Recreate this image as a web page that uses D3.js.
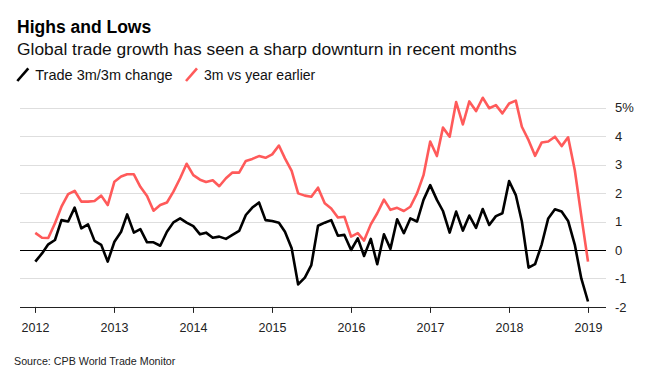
<!DOCTYPE html>
<html>
<head>
<meta charset="utf-8">
<script src="https://cdn.jsdelivr.net/npm/d3@7.9.0/dist/d3.min.js"></script>
<style>
  body { margin: 0; background: #fff; }
  svg { display: block; font-family: "Liberation Sans", Arial, sans-serif; }
</style>
</head>
<body>
<svg width="650" height="387"></svg>
<script>
// monthly readings, Jan 2012 .. Jan 2019
const startYear = 2012;
const trade3m = [
  -0.41, -0.12, 0.2, 0.35, 1.05, 1.0, 1.49, 0.76, 0.9, 0.32, 0.18, -0.41,
  0.29, 0.64, 1.25, 0.61, 0.73, 0.27, 0.27, 0.15, 0.64, 0.97, 1.11, 0.96,
  0.84, 0.55, 0.61, 0.43, 0.47, 0.39, 0.53, 0.67, 1.23, 1.49, 1.67, 1.05,
  1.02, 0.96, 0.64, 0.06, -1.21, -0.97, -0.53, 0.85, 0.96, 1.05, 0.5, 0.53,
  0.0, 0.41, -0.21, 0.39, -0.5, 0.55, 0.04, 1.08, 0.59, 1.11, 1.0, 1.76,
  2.28, 1.76, 1.37, 0.61, 1.35, 0.68, 1.21, 0.78, 1.44, 0.88, 1.19, 1.29,
  2.42, 1.93, 1.0, -0.62, -0.5, 0.2, 1.11, 1.43, 1.35, 1.02, 0.18, -1.0,
  -1.81
];
const yearEarlier = [
  0.6, 0.43, 0.42, 0.94, 1.52, 1.96, 2.08, 1.7, 1.7, 1.72, 1.91, 1.58,
  2.4, 2.58, 2.66, 2.66, 2.22, 1.9, 1.38, 1.58, 1.67, 2.05, 2.52, 3.03,
  2.63, 2.47, 2.39, 2.45, 2.24, 2.52, 2.72, 2.72, 3.13, 3.2, 3.3, 3.24,
  3.36, 3.67, 3.22, 2.78, 1.99, 1.91, 1.87, 2.19, 1.64, 1.46, 1.14, 1.17,
  0.47, 0.59, 0.33, 0.9, 1.29, 1.77, 1.41, 1.48, 1.37, 1.52, 1.99, 2.63,
  3.81, 3.3, 4.3, 3.98, 5.2, 4.41, 5.22, 4.88, 5.35, 4.98, 5.09, 4.8,
  5.15, 5.25, 4.33, 3.86, 3.31, 3.78, 3.81, 3.98, 3.65, 3.96, 2.8, 1.2,
  -0.41
];
const yTicks = [-2, -1, 0, 1, 2, 3, 4, 5];
const yearTicks = [2012, 2013, 2014, 2015, 2016, 2017, 2018, 2019];
const seriesNames = ['Trade 3m/3m change', '3m vs year earlier'];
const seriesColors = ['#000000', '#ff5a5a'];

const svg = d3.select('svg');

let x = d3.scaleTime()
  .domain([new Date(2012, 0, 1), new Date(2019, 0, 1)])
  .range([35.3, 588]);
let y = d3.scaleLinear().domain([-2, 5]).range([306.9, 107.7]);

const gridLeft = 20, gridRight = 606;

// gridlines + right labels
yTicks.forEach((t) => {
  let col = t === 0 ? '#000' : (t === -2 ? '#222' : '#dedede');
  svg.append('line')
    .attr('x1', gridLeft).attr('x2', gridRight)
    .attr('y1', Math.round(y(t)) + 0.5).attr('y2', Math.round(y(t)) + 0.5)
    .attr('stroke', col).attr('stroke-width', 1);
  svg.append('text')
    .attr('x', 615).attr('y', y(t)).attr('dy', '0.36em')
    .attr('font-size', 13).attr('fill', '#222')
    .text(t === 5 ? '5%' : t);
});

// year ticks along the bottom
yearTicks.forEach((yr) => {
  let px = Math.round(x(new Date(yr, 0, 1))) + 0.5;
  svg.append('line')
    .attr('x1', px).attr('x2', px)
    .attr('y1', y(-2)).attr('y2', y(-2) + 6)
    .attr('stroke', '#222').attr('stroke-width', 1);
  svg.append('text')
    .attr('x', px).attr('y', 332)
    .attr('text-anchor', 'middle')
    .attr('font-size', 12.5).attr('fill', '#222')
    .text(yr);
});

let line = d3.line()
  .x((d, i) => x(new Date(startYear, i, 1)))
  .y((d) => y(d));

[yearEarlier, trade3m].forEach((vals, k) => {
  svg.append('path')
    .attr('d', line(vals))
    .attr('fill', 'none')
    .attr('stroke', k === 0 ? seriesColors[1] : seriesColors[0])
    .attr('stroke-width', 2.6)
    .attr('stroke-linejoin', 'round');
});

// header
svg.append('text')
  .attr('x', 17).attr('y', 32.5)
  .attr('font-size', 17.5).attr('font-weight', 'bold').attr('fill', '#000')
  .text('Highs and Lows');
svg.append('text')
  .attr('x', 17).attr('y', 55)
  .attr('font-size', 17.4).attr('fill', '#111')
  .text('Global trade growth has seen a sharp downturn in recent months');

// legend
let legendX = [17.3, 186];
let legendSize = [14.5, 14];
seriesNames.forEach((name, i) => {
  svg.append('line')
    .attr('x1', legendX[i]).attr('y1', 81)
    .attr('x2', legendX[i] + 11).attr('y2', 68.3)
    .attr('stroke', seriesColors[i]).attr('stroke-width', 2.6);
  svg.append('text')
    .attr('x', legendX[i] + 18).attr('y', 80)
    .attr('font-size', legendSize[i]).attr('fill', '#111')
    .text(name);
});

svg.append('text')
  .attr('x', 14).attr('y', 365)
  .attr('font-size', 10.7).attr('fill', '#222')
  .text('Source: CPB World Trade Monitor');
</script>
</body>
</html>
